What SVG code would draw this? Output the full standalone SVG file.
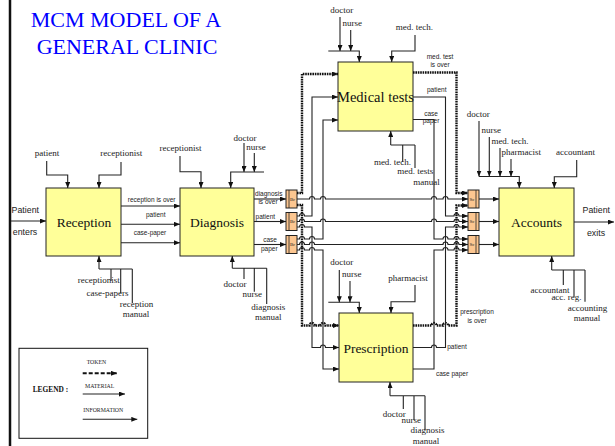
<svg xmlns="http://www.w3.org/2000/svg" width="615" height="446" viewBox="0 0 615 446">
<defs>
<marker id="a" markerWidth="6" markerHeight="5" refX="6" refY="2.5" orient="auto" markerUnits="userSpaceOnUse"><path d="M0,0 L6,2.5 L0,5 z" fill="#111"/></marker>
<style>
.ln{fill:none;stroke:#222;stroke-width:1.1}
.tk{fill:none;stroke:#111;stroke-width:2.4;stroke-dasharray:1.6 0.8}
.ar{marker-end:url(#a)}
.box{fill:#ffff99;stroke:#222;stroke-width:1}
.bs{fill:#fcc690;stroke:#222;stroke-width:1}
.big{font-family:"Liberation Serif","Times New Roman",serif;font-size:13.5px;fill:#111;text-anchor:middle}
.t{font-family:"Liberation Serif","Times New Roman",serif;font-size:9px;fill:#222;text-anchor:middle}
.s{font-family:"Liberation Sans",Arial,sans-serif;font-size:6.5px;fill:#222;text-anchor:middle}
.m{font-family:"Liberation Sans",Arial,sans-serif;font-size:8.8px;fill:#222;text-anchor:middle}
.tiny{font-family:"Liberation Serif",serif;font-size:5px;fill:#222;text-anchor:middle}
.lg{font-family:"Liberation Serif",serif;font-size:5.8px;fill:#222}
</style>
</defs>
<rect width="615" height="446" fill="#fff"/>
<line x1="10" y1="0" x2="10" y2="446" stroke="#111" stroke-width="2.5"/>
<g id="title" font-family="Liberation Serif,Times New Roman,serif" font-size="22" fill="#0000ff" text-anchor="middle">
<text x="126" y="27">MCM MODEL OF A</text>
<text x="127" y="54">GENERAL CLINIC</text>
</g>

<g id="reception"><rect class="box" x="46" y="188" width="75" height="68"/><text class="big" x="84" y="227">Reception</text></g>
<g id="diagnosis"><rect class="box" x="180" y="188" width="74" height="68"/><text class="big" x="217" y="227">Diagnosis</text></g>
<g id="medical-tests"><rect class="box" x="338" y="62" width="75" height="69"/><text class="big" x="375.5" y="102" style="font-size:14.5px">Medical tests</text></g>
<g id="prescription"><rect class="box" x="339" y="313" width="74" height="69"/><text class="big" x="376" y="352.5">Prescription</text></g>
<g id="accounts"><rect class="box" x="499" y="188" width="75" height="68"/><text class="big" x="536.5" y="227">Accounts</text></g>

<g id="br1"><rect class="bs" x="286" y="190" width="11" height="18"/><line x1="289" y1="190" x2="289" y2="208" stroke="#222" stroke-width="0.8"/><text class="tiny" x="292.5" y="200.5">Br</text></g>
<g id="br2"><rect class="bs" x="286" y="212.5" width="11" height="18"/><line x1="289" y1="212.5" x2="289" y2="230.5" stroke="#222" stroke-width="0.8"/><text class="tiny" x="292.5" y="223">Br</text></g>
<g id="br3"><rect class="bs" x="286" y="235.5" width="11" height="18"/><line x1="289" y1="235.5" x2="289" y2="253.5" stroke="#222" stroke-width="0.8"/><text class="tiny" x="292.5" y="246">Br</text></g>
<g id="sc1"><rect class="bs" x="468" y="190" width="11" height="18"/><line x1="476" y1="190" x2="476" y2="208" stroke="#222" stroke-width="0.8"/><text class="tiny" x="472" y="200.5">Sc</text></g>
<g id="sc2"><rect class="bs" x="468" y="212.5" width="11" height="18"/><line x1="476" y1="212.5" x2="476" y2="230.5" stroke="#222" stroke-width="0.8"/><text class="tiny" x="472" y="223">Sc</text></g>
<g id="sc3"><rect class="bs" x="468" y="235.5" width="11" height="18"/><line x1="476" y1="235.5" x2="476" y2="253.5" stroke="#222" stroke-width="0.8"/><text class="tiny" x="472" y="246">Sc</text></g>

<g id="connectors">
<!-- Reception -->
<path class="ln ar" d="M46.7,161 V175 H67.7 V188"/>
<path class="ln ar" d="M121,162 V175 H99 V188"/>
<path class="ln ar" d="M11,221 H46"/>
<path class="ln ar" d="M99,269 V256"/>
<path class="ln" d="M99,269 H132.3 M111,269 V281 M120.7,269 V293 M132.3,269 V303"/>
<path class="ln ar" d="M121,206 H180"/>
<path class="ln ar" d="M121,224.3 H180"/>
<path class="ln ar" d="M121,242.7 H180"/>
<!-- Diagnosis -->
<path class="ln ar" d="M180,156 V171.7 H201 V188"/>
<path class="ln ar" d="M244,143 V172"/>
<path class="ln ar" d="M254.3,153 V172"/>
<path class="ln ar" d="M264,172 H230.7 V188"/>
<path class="ln ar" d="M232.3,268.3 V256"/>
<path class="ln" d="M232.3,268.3 H266.7 M244,268.3 V279 M254.3,268.3 V291.7 M266.7,268.3 V304"/>
<path class="ln ar" d="M254,199 H286"/>
<path class="ln ar" d="M254,221.5 H286"/>
<path class="ln ar" d="M254,244.5 H286"/>
<!-- Medical tests -->
<path class="ln ar" d="M340,17 V51"/>
<path class="ln ar" d="M350.7,30 V51"/>
<path class="ln ar" d="M328.3,51 H359.3 V62"/>
<path class="ln ar" d="M415,35 V51 H391.7 V62"/>
<path class="ln ar" d="M390.7,145 V131"/>
<path class="ln" d="M390.7,145 H415 M402.7,145 V162 M415,145 V168"/>
<!-- Prescription -->
<path class="ln ar" d="M339.3,270 V302.3"/>
<path class="ln ar" d="M350,281 V302.3"/>
<path class="ln ar" d="M328.3,302.3 H359.3 V313"/>
<path class="ln ar" d="M415,285 V301.7 H391 V313"/>
<path class="ln ar" d="M390,395.7 V382"/>
<path class="ln" d="M390,395.7 H425 M403.3,395.7 V409 M414,395.7 V420 M425,395.7 V430"/>
<!-- Accounts -->
<path class="ln ar" d="M479,121 V176.5"/>
<path class="ln ar" d="M489.3,137 V176.5"/>
<path class="ln ar" d="M500,148 V176.5"/>
<path class="ln ar" d="M511,159 V176.5"/>
<path class="ln ar" d="M479,176.5 H519.3 V188"/>
<path class="ln ar" d="M576.7,160 V176.7 H554.3 V188"/>
<path class="ln ar" d="M551.7,270 V256"/>
<path class="ln" d="M551.7,270 H585 M563.3,270 V285 M574,270 V296.7 M585,270 V301.7"/>
<path class="ln ar" d="M574,222 H614"/>
<path class="ln ar" d="M479,199 H499"/>
<path class="ln ar" d="M479,221.5 H499"/>
<path class="ln ar" d="M479,244.5 H499"/>
<!-- Br network -->
<path class="ln ar" d="M297,199 H309.5 a2.5,2.5 0 0 1 5,0 H320.5 a2.5,2.5 0 0 1 5,0 H431.5 a2.5,2.5 0 0 1 5,0 H443 a2.5,2.5 0 0 1 5,0 H468"/>
<path class="ln ar" d="M297,221.5 H299.5 a2.5,2.5 0 0 1 5,0 H320.5 a2.5,2.5 0 0 1 5,0 H431.5 a2.5,2.5 0 0 1 5,0 H454 a2.5,2.5 0 0 1 5,0 H468"/>
<path class="ln ar" d="M297,244.5 H299.5 a2.5,2.5 0 0 1 5,0 H309.5 a2.5,2.5 0 0 1 5,0 H443 a2.5,2.5 0 0 1 5,0 H454 a2.5,2.5 0 0 1 5,0 H468"/>
<path class="tk ar" d="M297,193 H302 V74 H338"/>
<path class="tk ar" d="M297,205 H302 V325.5 H309.5 a2.5,2.5 0 0 1 5,0 H320.5 a2.5,2.5 0 0 1 5,0 H339"/>
<path class="ln ar" d="M297,216 H299.5 a2.5,2.5 0 0 1 5,0 H312 V97 H338"/>
<path class="ln ar" d="M297,227 H299.5 a2.5,2.5 0 0 1 5,0 H312 V347.5 H320.5 a2.5,2.5 0 0 1 5,0 H339"/>
<path class="ln ar" d="M297,239 H299.5 a2.5,2.5 0 0 1 5,0 H309.5 a2.5,2.5 0 0 1 5,0 H323 V120 H338"/>
<path class="ln ar" d="M297,250 H299.5 a2.5,2.5 0 0 1 5,0 H309.5 a2.5,2.5 0 0 1 5,0 H323 V369 H339"/>
<!-- Sc network -->
<path class="tk ar" d="M413,72.5 H456.5 V193 H468"/>
<path class="ln ar" d="M413,97 H445.5 V216 H454 a2.5,2.5 0 0 1 5,0 H468"/>
<path class="ln ar" d="M413,119.5 H434 V239 H443 a2.5,2.5 0 0 1 5,0 H454 a2.5,2.5 0 0 1 5,0 H468"/>
<path class="tk ar" d="M413,325.5 H431.5 a2.5,2.5 0 0 1 5,0 H443 a2.5,2.5 0 0 1 5,0 H456.5 V205.5 H468"/>
<path class="ln ar" d="M413,347.5 H431.5 a2.5,2.5 0 0 1 5,0 H445.5 V227 H454 a2.5,2.5 0 0 1 5,0 H468"/>
<path class="ln ar" d="M413,369 H434 V250 H443 a2.5,2.5 0 0 1 5,0 H454 a2.5,2.5 0 0 1 5,0 H468"/>
</g>

<g id="labels">
<text class="t" x="47" y="156">patient</text>
<text class="t" x="121.3" y="156">receptionist</text>
<text class="m" x="25.3" y="212.7">Patient</text>
<text class="m" x="25" y="235">enters</text>
<text class="t" x="98.8" y="282.7">receptionist</text>
<text class="t" x="107.5" y="296">case-papers</text>
<text class="t" x="136.5" y="306.7">reception</text>
<text class="t" x="136" y="317">manual</text>
<text class="s" x="151.7" y="201.7">reception is over</text>
<text class="s" x="155.7" y="217">patient</text>
<text class="s" x="150" y="235">case-paper</text>
<text class="t" x="180.5" y="150.7">receptionist</text>
<text class="t" x="245" y="140.5">doctor</text>
<text class="t" x="256" y="150">nurse</text>
<text class="t" x="235" y="286.7">doctor</text>
<text class="t" x="252.3" y="296.7">nurse</text>
<text class="t" x="268.3" y="310">diagnosis</text>
<text class="t" x="268.3" y="320">manual</text>
<text class="s" x="268.8" y="195.7">diagnosis</text>
<text class="s" x="268" y="204">is over</text>
<text class="s" x="265.3" y="218.7">patient</text>
<text class="s" x="270" y="241.7">case</text>
<text class="s" x="269.3" y="250.7">paper</text>
<text class="t" x="341.7" y="13">doctor</text>
<text class="t" x="352.2" y="26">nurse</text>
<text class="t" x="414.3" y="30">med. tech.</text>
<text class="s" x="440" y="59">med. test</text>
<text class="s" x="440" y="66.7">is over</text>
<text class="s" x="436.7" y="91.7">patient</text>
<text class="s" x="431" y="116">case</text>
<text class="s" x="431" y="123.3">paper</text>
<text class="t" x="392.5" y="165">med. tech.</text>
<text class="t" x="415.3" y="174">med. tests</text>
<text class="t" x="426.5" y="185">manual</text>
<text class="t" x="341.7" y="265">doctor</text>
<text class="t" x="351.7" y="277.3">nurse</text>
<text class="t" x="408" y="280.7">pharmacist</text>
<text class="s" x="477" y="314">prescription</text>
<text class="s" x="477" y="323.3">is over</text>
<text class="s" x="457" y="349">patient</text>
<text class="s" x="452" y="376">case paper</text>
<text class="t" x="394.2" y="417.3">doctor</text>
<text class="t" x="411.3" y="423.3">nurse</text>
<text class="t" x="427.5" y="433.3">diagnosis</text>
<text class="t" x="426" y="444">manual</text>
<text class="t" x="478.3" y="116.7">doctor</text>
<text class="t" x="491.3" y="133.3">nurse</text>
<text class="t" x="510" y="144.3">med. tech.</text>
<text class="t" x="521.3" y="155">pharmacist</text>
<text class="t" x="575.5" y="155">accountant</text>
<text class="t" x="550" y="293">accountant</text>
<text class="t" x="566.5" y="300">acc. reg.</text>
<text class="t" x="587.5" y="311">accounting</text>
<text class="t" x="587" y="320.7">manual</text>
<text class="m" x="596.3" y="212.7">Patient</text>
<text class="m" x="596" y="236">exits</text>
</g>

<g id="legend">
<rect x="19" y="348.3" width="128.7" height="90" fill="none" stroke="#111" stroke-width="1"/>
<text x="32.7" y="392.3" font-family="Liberation Serif,serif" font-size="7.4" font-weight="bold" fill="#111">LEGEND :</text>
<text class="lg" x="86.7" y="364.3">TOKEN</text>
<path d="M82.7,373.3 H117" fill="none" stroke="#111" stroke-width="2" stroke-dasharray="4 2" marker-end="url(#a)"/>
<text class="lg" x="85" y="388.3">MATERIAL</text>
<path class="ln ar" d="M82.7,394 H125"/>
<text class="lg" x="83.3" y="411.7">INFORMATION</text>
<path class="ln ar" d="M82.7,419.3 H137.3"/>
</g>
</svg>
